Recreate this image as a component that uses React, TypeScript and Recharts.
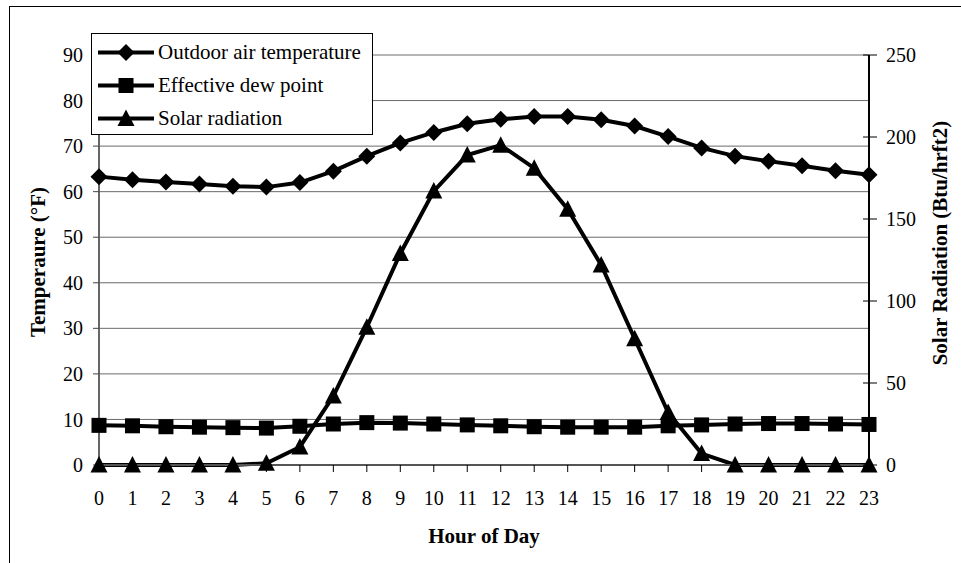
import { LineChart, Line, XAxis, YAxis, CartesianGrid, Legend } from "recharts";

const hours = [0, 1, 2, 3, 4, 5, 6, 7, 8, 9, 10, 11, 12, 13, 14, 15, 16, 17, 18, 19, 20, 21, 22, 23];
const outdoorTemp = [63.3, 62.6, 62.1, 61.7, 61.2, 61.0, 62.0, 64.5, 67.8, 70.7, 73.0, 74.9, 75.9, 76.5, 76.5, 75.8, 74.4, 72.1, 69.6, 67.8, 66.7, 65.7, 64.6, 63.7];
const dewPoint = [8.7, 8.6, 8.4, 8.3, 8.2, 8.1, 8.5, 9.0, 9.3, 9.2, 9.0, 8.8, 8.6, 8.4, 8.3, 8.3, 8.3, 8.6, 8.8, 9.0, 9.1, 9.1, 9.0, 8.9];
const solarRad = [0, 0, 0, 0, 0, 1, 11, 42, 84, 129, 167, 189, 195, 181, 156, 122, 77, 32, 7, 0, 0, 0, 0, 0];

const tempTicks = [0, 10, 20, 30, 40, 50, 60, 70, 80, 90];
const solarTicks = [0, 50, 100, 150, 200, 250];
const seriesOrder = ["temp", "dew", "solar"];

const FONT = '"Liberation Serif", "Times New Roman", serif';

const data = hours.map((h, i) => ({
  hour: h,
  temp: outdoorTemp[i],
  dew: dewPoint[i],
  solar: solarRad[i],
}));

type DotProps = { cx?: number; cy?: number; index?: number };

function Diamond({ cx = 0, cy = 0 }: DotProps) {
  return <path d={`M${cx},${cy - 8.5}L${cx + 8.5},${cy}L${cx},${cy + 8.5}L${cx - 8.5},${cy}Z`} fill="#000" />;
}
function Square({ cx = 0, cy = 0 }: DotProps) {
  return <rect x={cx - 7.5} y={cy - 7.5} width={15} height={15} fill="#000" />;
}
function Triangle({ cx = 0, cy = 0 }: DotProps) {
  return <path d={`M${cx},${cy - 9}L${cx + 8.5},${cy + 7.5}L${cx - 8.5},${cy + 7.5}Z`} fill="#000" />;
}

const markers: Record<string, (p: DotProps) => JSX.Element> = {
  temp: Diamond,
  dew: Square,
  solar: Triangle,
};

const dotFor = (key: string) => (p: any) => {
  const M = markers[key];
  return <M key={`${key}-${p.index}`} cx={p.cx} cy={p.cy} />;
};

function LegendBox({ payload }: { payload?: any[] }) {
  if (!payload) return null;
  const items = [...payload].sort(
    (a, b) => seriesOrder.indexOf(a.dataKey) - seriesOrder.indexOf(b.dataKey)
  );
  return (
    <div
      style={{
        background: "#fff",
        border: "1px solid #000",
        boxSizing: "border-box",
        width: 282,
        height: 102,
        paddingTop: 2,
        fontFamily: FONT,
        fontSize: 21,
        color: "#000",
      }}
    >
      {items.map((entry) => {
        const M = markers[entry.dataKey as string];
        return (
          <div key={entry.dataKey} style={{ display: "flex", alignItems: "center", height: 33 }}>
            <svg width={66} height={33} style={{ flex: "none" }}>
              <line x1={6} x2={62} y1={16.5} y2={16.5} stroke="#000" strokeWidth={4} />
              <M cx={34} cy={16.5} />
            </svg>
            <span style={{ whiteSpace: "nowrap" }}>{entry.value}</span>
          </div>
        );
      })}
    </div>
  );
}

const tickStyle = { fontSize: 20, fill: "#000", fontFamily: FONT };

function SolarTick({ x = 0, y = 0, payload }: any) {
  const axisX = x - 17;
  return (
    <g>
      <line x1={axisX - 6} x2={axisX} y1={y} y2={y} stroke="#000" strokeWidth={1} />
      <text x={x} y={y} dy="0.35em" textAnchor="start" {...tickStyle}>
        {payload.value}
      </text>
    </g>
  );
}

const titleStyle = { fontSize: 21, fontWeight: "bold" as const, fill: "#000", fontFamily: FONT };

const XTitle = ({ viewBox }: any) => (
  <text x={viewBox.x + viewBox.width / 2} y={viewBox.y + 78} textAnchor="middle" {...titleStyle}>
    Hour of Day
  </text>
);

const TempTitle = ({ viewBox }: any) => {
  const cx = viewBox.x + 28;
  const cy = viewBox.y + viewBox.height / 2 + 2;
  return (
    <text x={cx} y={cy} dy="0.35em" textAnchor="middle" transform={`rotate(-90, ${cx}, ${cy})`} {...titleStyle}>
      Temperaure (°F)
    </text>
  );
};

const SolarTitle = ({ viewBox }: any) => {
  const cx = viewBox.x + 71;
  const cy = viewBox.y + viewBox.height / 2 - 17;
  return (
    <text x={cx} y={cy} dy="0.35em" textAnchor="middle" transform={`rotate(-90, ${cx}, ${cy})`} {...titleStyle}>
      Solar Radiation (Btu/hrft2)
    </text>
  );
};

export default function App() {
  return (
    <div style={{ position: "absolute", left: 0, top: 0, width: 961, height: 563, overflow: "hidden", background: "#fff" }}>
      <LineChart width={961} height={563} data={data} margin={{ top: 55, right: 10, bottom: 38, left: 10 }}>
        <CartesianGrid vertical={false} yAxisId="temp" stroke="#6a6a6a" strokeWidth={1} />
        <XAxis
          dataKey="hour"
          height={60}
          tick={tickStyle}
          tickSize={7}
          tickMargin={19}
          interval={0}
          axisLine={{ stroke: "#555", strokeWidth: 2 }}
          tickLine={{ stroke: "#000" }}
          label={{ content: XTitle }}
        />
        <YAxis
          yAxisId="temp"
          width={89}
          domain={[0, 90]}
          ticks={tempTicks}
          tick={tickStyle}
          tickSize={6}
          tickMargin={10}
          axisLine={{ stroke: "#666", strokeWidth: 2 }}
          tickLine={{ stroke: "#444" }}
          label={{ content: TempTitle }}
        />
        <YAxis
          yAxisId="solar"
          orientation="right"
          width={82}
          domain={[0, 250]}
          ticks={solarTicks}
          tick={<SolarTick />}
          tickSize={8}
          tickMargin={9}
          axisLine={{ stroke: "#000", strokeWidth: 2 }}
          tickLine={{ stroke: "#000" }}
          label={{ content: SolarTitle }}
        />
        <Legend
          layout="vertical"
          align="center"
          verticalAlign="middle"
          content={<LegendBox />}
          wrapperStyle={{ left: 91, top: 33, width: 282, height: 102 }}
        />
        <Line
          yAxisId="temp"
          dataKey="temp"
          name="Outdoor air temperature"
          stroke="#000"
          strokeWidth={4}
          dot={dotFor("temp")}
          activeDot={false}
          isAnimationActive={false}
        />
        <Line
          yAxisId="temp"
          dataKey="dew"
          name="Effective dew point"
          stroke="#000"
          strokeWidth={4}
          dot={dotFor("dew")}
          activeDot={false}
          isAnimationActive={false}
        />
        <Line
          yAxisId="solar"
          dataKey="solar"
          name="Solar radiation"
          stroke="#000"
          strokeWidth={4}
          dot={dotFor("solar")}
          activeDot={false}
          isAnimationActive={false}
        />
      </LineChart>
      <div
        style={{
          position: "absolute",
          left: 9,
          top: 6,
          width: 1000,
          height: 700,
          border: "1px solid #000",
          pointerEvents: "none",
        }}
      />
    </div>
  );
}
